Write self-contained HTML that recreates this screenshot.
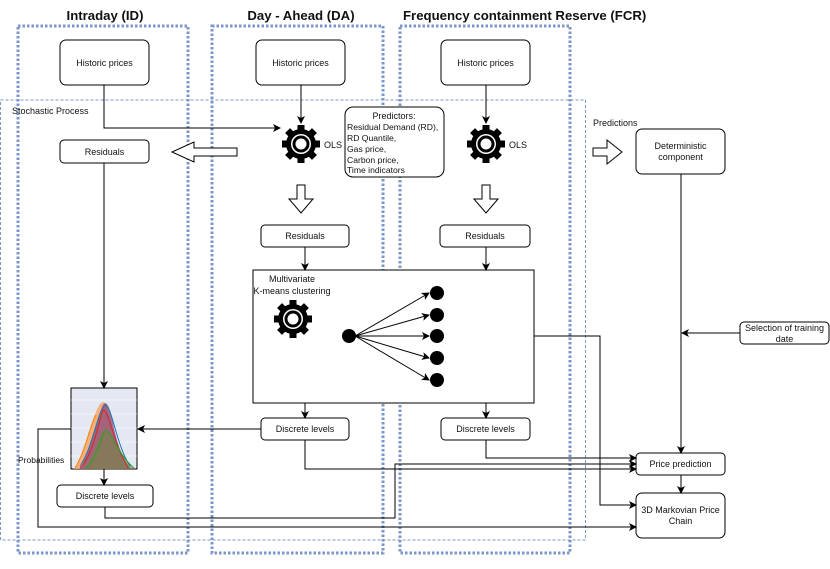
<!DOCTYPE html>
<html><head><meta charset="utf-8"><style>
body{margin:0;background:#fff}
svg text{font-family:"Liberation Sans",sans-serif;fill:#111}
</style></head><body>
<svg width="830" height="564" viewBox="0 0 830 564" xmlns="http://www.w3.org/2000/svg">
<defs>
<marker id="a" markerWidth="8" markerHeight="8" refX="7" refY="4" orient="auto" markerUnits="userSpaceOnUse"><path d="M0,0 L8,4 L0,8 L2,4 Z" fill="#000"/></marker>
<g id="gear">
<g fill="#000">
<rect x="-3.5" y="-19" width="7" height="38"/>
<rect x="-3.5" y="-19" width="7" height="38" transform="rotate(45)"/>
<rect x="-3.5" y="-19" width="7" height="38" transform="rotate(90)"/>
<rect x="-3.5" y="-19" width="7" height="38" transform="rotate(135)"/>
</g>
<circle r="15" fill="#000"/>
<circle r="10" fill="#fff"/>
<circle r="8.5" fill="#000"/>
<circle r="5.5" fill="#fff"/>
</g>
</defs>
<g font-weight="bold" font-size="13.2">
<text x="105" y="20" text-anchor="middle">Intraday (ID)</text>
<text x="301" y="20" text-anchor="middle">Day - Ahead (DA)</text>
<text x="403" y="20">Frequency containment Reserve (FCR)</text>
</g>
<g fill="none" stroke="#7d96c8" stroke-width="3" stroke-dasharray="2.5 2">
<rect x="18" y="26" width="170" height="527"/>
<rect x="212" y="26" width="171" height="527"/>
<rect x="400" y="26" width="170" height="527"/>
</g>
<rect x="0.5" y="100" width="585" height="440" fill="none" stroke="#7d96c8" stroke-width="1" stroke-dasharray="3 2"/>
<text x="12" y="114" font-size="9">Stochastic Process</text>

<g fill="#fff" stroke="#000" stroke-width="1">
<rect x="60" y="40" width="89" height="45" rx="6"/>
<rect x="256" y="40" width="89" height="45" rx="6"/>
<rect x="441" y="40" width="89" height="45" rx="6"/>
<rect x="345" y="107" width="99" height="70" rx="8"/>
<rect x="60" y="140" width="89" height="23" rx="4"/>
<rect x="261" y="225" width="88" height="22" rx="4"/>
<rect x="440" y="225" width="90" height="22" rx="4"/>
<rect x="253" y="270" width="281" height="133"/>
<rect x="261" y="418" width="88" height="22" rx="4"/>
<rect x="441" y="418" width="89" height="22" rx="4"/>
<rect x="57" y="485" width="96" height="22" rx="4"/>
<rect x="636" y="129" width="89" height="45" rx="6"/>
<rect x="740" y="322" width="89" height="22" rx="4"/>
<rect x="636" y="453" width="89" height="22" rx="4"/>
<rect x="636" y="493" width="89" height="45" rx="6"/>
</g>
<g font-size="9" text-anchor="middle">
<text x="104.5" y="66">Historic prices</text>
<text x="300.5" y="66">Historic prices</text>
<text x="485.5" y="66">Historic prices</text>
<text x="104.5" y="155">Residuals</text>
<text x="305" y="239">Residuals</text>
<text x="485" y="239">Residuals</text>
<text x="305" y="432">Discrete levels</text>
<text x="485.5" y="432">Discrete levels</text>
<text x="105" y="499">Discrete levels</text>
<text x="680.5" y="149">Deterministic</text>
<text x="680.5" y="160">component</text>
<text x="784.5" y="331">Selection of training</text>
<text x="784.5" y="342">date</text>
<text x="680.5" y="467">Price prediction</text>
<text x="680.5" y="513">3D Markovian Price</text>
<text x="680.5" y="524">Chain</text>
<text x="394" y="119">Predictors:</text>
<text x="292" y="282">Multivariate</text>
<text x="292" y="294">K-means clustering</text>
</g>
<g font-size="8.6">
<text x="347" y="130">Residual Demand (RD),</text>
<text x="347" y="141">RD Quantile,</text>
<text x="347" y="152">Gas price,</text>
<text x="347" y="163">Carbon price,</text>
<text x="347" y="173">Time indicators</text>
</g>
<g font-size="9">
<text x="324" y="148">OLS</text>
<text x="509" y="148">OLS</text>
<text x="593" y="126">Predictions</text>
<text x="18" y="463" font-size="8.5">Probabilities</text>
</g>
<use href="#gear" x="301" y="144"/>
<use href="#gear" x="486" y="144"/>
<use href="#gear" x="293" y="319"/>

<g fill="#fff" stroke="#000" stroke-width="1">
<path d="M237,148 L194,148 L194,142 L172,152 L194,162 L194,156 L237,156 Z"/>
<path d="M297,185 L305,185 L305,199 L313,199 L301,213 L289,199 L297,199 Z"/>
<path d="M482,185 L490,185 L490,199 L498,199 L486,213 L474,199 L482,199 Z"/>
<path d="M593,148 L607,148 L607,140 L622,152 L607,164 L607,156 L593,156 Z"/>
</g>

<rect x="71" y="388" width="66" height="81" fill="#e3e8f2" stroke="#000"/>
<g stroke="#fff" stroke-width="0.6"><line x1="71" y1="400" x2="137" y2="400"/><line x1="71" y1="414" x2="137" y2="414"/><line x1="71" y1="428" x2="137" y2="428"/><line x1="71" y1="442" x2="137" y2="442"/><line x1="71" y1="456" x2="137" y2="456"/></g>
<path d="M74,469 C84,455 88,430 96,412 C100,402 103,400 106,404 C110,415 114,440 126,469 Z" fill="#f7a35c" opacity="0.8"/>
<path d="M80,469 C90,450 96,420 103,405 C106,400 109,405 112,418 C116,440 122,460 132,469 Z" fill="#8a4a7a" opacity="0.75"/>
<path d="M84,469 C95,455 100,430 106,430 C112,432 120,455 134,469 Z" fill="#6b8e3a" opacity="0.5"/>
<path d="M80,466 C92,450 98,410 105,405 C112,405 116,445 130,466" fill="none" stroke="#1f77b4" stroke-width="1"/>
<path d="M80,468 C94,455 99,418 103,410 C109,410 114,445 128,468" fill="none" stroke="#d62728" stroke-width="1"/>
<path d="M86,468 C98,458 102,430 106,430 C112,432 118,455 134,468" fill="none" stroke="#2ca02c" stroke-width="1"/>
<path d="M75,468 C86,450 90,425 96,415" fill="none" stroke="#ff7f0e" stroke-width="1"/>

<g fill="#000">
<circle cx="349" cy="336" r="7"/>
<circle cx="437" cy="293" r="7"/><circle cx="437" cy="315" r="7"/><circle cx="437" cy="336" r="7"/><circle cx="437" cy="358" r="7"/><circle cx="437" cy="380" r="7"/>
</g>

<g fill="none" stroke="#000" stroke-width="1" marker-end="url(#a)">
<path d="M104,85 V128 H280"/>
<path d="M301,85 V123"/>
<path d="M486,85 V123"/>
<path d="M355,336 L429,293"/>
<path d="M355,336 L429,315"/>
<path d="M355,336 L429,336"/>
<path d="M355,336 L429,358"/>
<path d="M355,336 L429,380"/>
<path d="M305,247 V270"/>
<path d="M486,247 V270"/>
<path d="M305,403 V418"/>
<path d="M486,403 V418"/>
<path d="M104,163 V388"/>
<path d="M104,469 V485"/>
<path d="M261,429 H138"/>
<path d="M71,429 H38 V527 H636"/>
<path d="M105,507 V518 H395 V464 H636"/>
<path d="M305,440 V469 H636"/>
<path d="M486,440 V458 H636"/>
<path d="M534,336 H600 V505 H636"/>
<path d="M681,174 V453"/>
<path d="M740,333 H682"/>
<path d="M681,475 V493"/>
</g>
</svg>
</body></html>
